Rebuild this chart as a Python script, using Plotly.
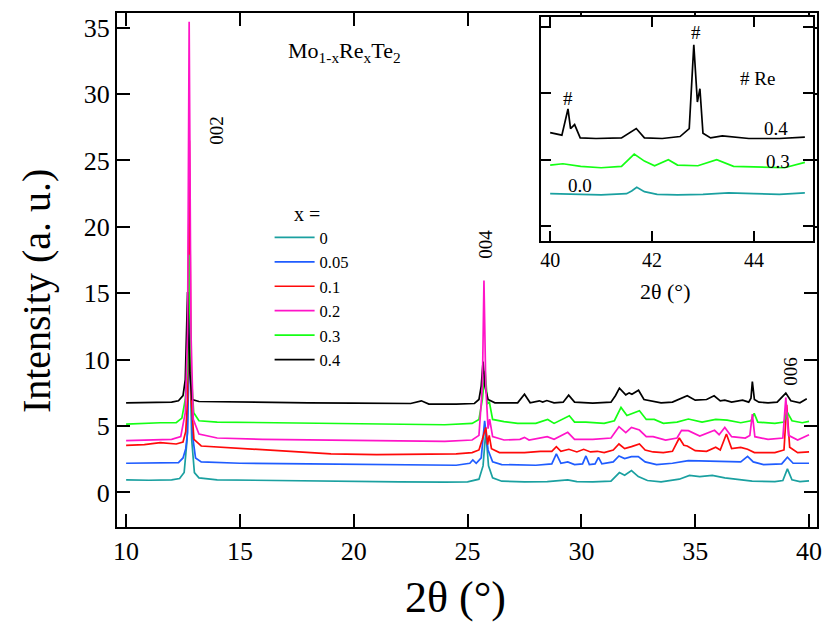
import plotly.graph_objects as go

FONT = "Liberation Serif, Times New Roman, serif"

# ---------------- data (2theta, intensity) ----------------
series_names = ["0", "0.05", "0.1", "0.2", "0.3", "0.4"]
series_colors = ["#1aa0a0", "#1f5cff", "#ff0a0a", "#ff14c8", "#14ff14", "#000000"]

s_000 = [(10.0,0.95),(11.0,0.92),(12.0,0.95),(12.35,1.05),(12.55,1.5),(12.68,4.0),(12.78,12.5),(12.88,4.0),
         (13.0,1.5),(13.2,1.1),(14.0,0.95),(16.0,0.9),(18.0,0.85),(20.0,0.82),(22.0,0.8),(24.0,0.78),(25.0,0.8),
         (25.5,1.0),(25.68,2.0),(25.8,4.6),(25.92,2.0),(26.1,1.1),(26.5,0.85),(27.5,0.8),(28.5,0.82),(29.4,0.95),
         (29.8,0.82),(30.5,0.8),(31.3,0.85),(31.67,1.5),(31.9,1.3),(32.2,1.65),(32.5,1.2),(32.9,0.9),(33.5,0.8),
         (34.3,1.0),(34.75,1.28),(35.2,1.2),(35.75,1.28),(36.3,1.1),(36.85,1.0),(37.5,0.85),(38.5,0.82),(38.85,0.9),
         (39.05,1.78),(39.25,0.95),(39.6,0.82),(40.0,0.88)]

s_005 = [(10.0,2.2),(11.5,2.2),(12.3,2.25),(12.5,2.6),(12.62,3.3),(12.7,4.5),(12.8,14.0),(12.9,4.5),(13.05,2.6),
         (13.3,2.3),(15.0,2.2),(18.0,2.15),(22.0,2.08),(24.5,2.05),(25.1,2.2),(25.23,2.45),(25.38,2.2),(25.6,2.6),
         (25.75,5.4),(25.9,3.2),(26.1,2.3),(26.5,2.1),(28.0,2.05),(28.7,2.15),(28.9,2.9),(29.1,2.2),(29.4,2.3),
         (29.7,2.1),(30.05,2.15),(30.2,2.75),(30.35,2.1),(30.6,2.15),(30.75,2.65),(30.9,2.15),(31.4,2.3),(31.65,2.75),
         (31.9,2.55),(32.2,2.7),(32.5,2.7),(32.8,2.3),(33.3,2.1),(34.0,2.2),(34.7,2.4),(35.5,2.35),(36.3,2.3),
         (37.0,2.3),(37.3,2.72),(37.55,2.3),(38.0,2.1),(38.8,2.15),(39.05,2.65),(39.3,2.2),(40.0,2.2)]

s_010 = [(10.0,3.55),(10.8,3.6),(11.5,3.75),(12.2,3.65),(12.5,3.8),(12.62,4.6),(12.7,7.0),(12.78,26.5),(12.86,7.0),
         (12.98,4.0),(13.3,3.5),(14.7,3.35),(16.5,3.15),(17.6,3.0),(19.0,2.9),(21.0,2.85),(23.0,2.85),(24.5,2.9),
         (25.2,3.0),(25.5,3.2),(25.65,4.0),(25.8,4.9),(25.88,3.6),(25.95,4.3),(26.05,3.3),(26.4,3.0),(27.5,3.0),
         (28.2,3.1),(28.7,3.1),(28.9,3.45),(29.1,3.1),(29.45,3.25),(29.8,3.05),(30.1,3.25),(30.4,3.05),(30.7,3.1),
         (31.0,3.0),(31.4,3.2),(31.65,3.65),(31.9,3.3),(32.2,3.45),(32.55,3.65),(32.8,3.2),(33.15,3.05),(33.6,3.0),
         (34.0,3.1),(34.3,4.1),(34.5,3.55),(34.65,3.5),(35.0,3.15),(35.5,3.1),(35.9,3.4),(36.1,3.2),(36.37,4.4),
         (36.6,3.3),(37.0,3.4),(37.3,3.25),(37.6,3.0),(38.5,3.0),(38.9,3.2),(39.02,6.6),(39.15,3.4),(39.5,3.0),
         (40.0,3.05)]

s_020 = [(10.0,3.9),(11.0,3.95),(12.0,4.0),(12.4,4.2),(12.6,6.0),(12.7,12.0),(12.77,35.45),(12.85,12.0),(12.95,5.5),
         (13.2,4.4),(14.0,4.1),(16.0,4.0),(18.0,3.95),(20.0,3.95),(22.0,3.9),(24.0,3.85),(25.2,3.95),(25.5,4.3),
         (25.65,8.0),(25.72,15.95),(25.8,8.0),(25.9,4.8),(25.97,5.53),(26.1,4.2),(26.6,3.95),(27.3,4.0),(27.5,4.15),
         (27.7,3.95),(28.5,4.2),(28.8,4.0),(29.4,4.53),(29.7,4.0),(30.5,4.0),(31.3,4.1),(31.65,4.95),(31.95,4.5),
         (32.2,4.9),(32.55,4.7),(32.85,4.2),(33.15,4.2),(33.7,3.95),(34.2,4.1),(34.4,4.68),(34.7,4.65),(35.2,4.25),
         (35.85,4.68),(36.05,4.35),(36.3,4.9),(36.6,4.2),(37.2,4.1),(37.4,4.3),(37.51,5.9),(37.62,4.2),(38.2,4.0),
         (38.85,4.1),(38.98,7.15),(39.1,4.3),(39.5,3.95),(40.0,4.35)]

s_030 = [(10.0,5.15),(10.5,5.2),(11.5,5.25),(12.2,5.25),(12.45,5.6),(12.6,7.0),(12.72,10.0),(12.78,17.9),(12.86,9.0),
         (12.97,6.0),(13.2,5.4),(14.0,5.3),(16.0,5.25),(18.0,5.2),(20.0,5.15),(22.0,5.15),(24.0,5.1),(25.2,5.2),
         (25.5,5.5),(25.65,7.0),(25.77,9.15),(25.88,6.7),(25.96,6.78),(26.1,5.5),(26.6,5.33),(27.2,5.2),(28.0,5.2),
         (28.52,5.5),(28.8,5.2),(29.47,5.78),(29.7,5.3),(30.2,5.3),(31.0,5.2),(31.45,5.4),(31.74,6.4),(32.0,5.8),
         (32.25,5.95),(32.55,6.15),(32.85,5.5),(33.2,5.5),(33.6,5.2),(34.2,5.3),(34.7,5.53),(35.3,5.3),(35.9,5.5),
         (36.4,5.45),(37.0,5.25),(37.45,5.4),(37.59,5.95),(37.75,5.3),(38.5,5.2),(38.9,5.3),(39.05,6.03),(39.25,5.4),
         (39.7,5.25),(40.0,5.35)]

s_040 = [(10.0,6.75),(11.0,6.78),(12.0,6.8),(12.3,6.9),(12.5,7.3),(12.6,8.5),(12.7,15.1),(12.8,9.0),(12.9,7.0),
         (13.2,6.85),(15.0,6.8),(18.0,6.75),(20.0,6.72),(22.5,6.7),(22.97,6.9),(23.3,6.65),(24.5,6.65),(25.3,6.7),
         (25.5,7.0),(25.6,8.0),(25.68,9.85),(25.76,8.0),(25.9,7.0),(26.2,6.75),(27.2,6.75),(27.5,7.4),(27.75,6.75),
         (28.15,6.9),(28.3,6.8),(28.48,6.92),(28.8,6.75),(29.2,6.8),(29.44,7.33),(29.7,6.8),(30.5,6.72),(31.3,6.8),
         (31.5,7.3),(31.67,7.85),(31.95,7.35),(32.1,7.5),(32.22,7.4),(32.51,7.7),(32.75,7.0),(33.13,6.9),(33.5,6.75),
         (34.0,6.8),(34.3,7.05),(34.65,7.28),(35.0,6.95),(35.5,7.0),(35.83,7.28),(36.1,6.9),(36.3,6.95),(36.6,6.8),
         (37.08,6.95),(37.35,6.8),(37.45,7.1),(37.51,8.35),(37.6,7.0),(37.8,6.8),(38.2,6.75),(38.6,6.8),(38.98,7.48),
         (39.2,6.9),(39.6,6.75),(39.9,7.05)]

main_series = [s_000, s_005, s_010, s_020, s_030, s_040]
draw_order = [0, 1, 2, 4, 5, 3]

# inset (40-45 deg) data
inset_names = ["0.0", "0.3", "0.4"]
inset_colors = ["#1aa0a0", "#14ff14", "#000000"]
in_000 = [(40.0,0.49),(40.5,0.48),(41.0,0.47),(41.5,0.49),(41.6,0.53),(41.7,0.585),(41.85,0.52),(42.1,0.48),
          (42.5,0.47),(43.0,0.48),(43.5,0.5),(44.0,0.49),(44.5,0.48),(45.0,0.5)]
in_030 = [(40.0,0.92),(40.25,0.94),(40.6,0.9),(41.0,0.88),(41.4,0.9),(41.65,1.085),(41.85,0.98),(42.05,0.91),
          (42.32,1.0),(42.5,0.92),(42.9,0.91),(43.27,1.0),(43.6,0.9),(44.1,0.89),(44.6,0.88),(45.0,0.96)]
in_040 = [(40.0,1.41),(40.23,1.37),(40.35,1.765),(40.4,1.47),(40.48,1.53),(40.59,1.33),(40.9,1.32),(41.4,1.33),
          (41.69,1.47),(41.85,1.33),(42.2,1.32),(42.55,1.35),(42.73,1.47),(42.82,2.73),(42.89,1.87),(42.94,2.07),
          (43.0,1.4),(43.15,1.33),(43.38,1.36),(43.56,1.35),(43.9,1.32),(44.5,1.32),(45.0,1.34)]
inset_series = [in_000, in_030, in_040]

x_ticks = [10, 15, 20, 25, 30, 35, 40]
y_ticks = [0, 5, 10, 15, 20, 25, 30, 35]
inset_x_ticks = [40, 42, 44]

# ---------------- figure ----------------
fig = go.Figure()

for i in draw_order:
    s = main_series[i]
    fig.add_trace(go.Scatter(
        x=[p[0] for p in s], y=[p[1] for p in s], mode="lines",
        name=series_names[i], legendrank=i + 1,
        line=dict(color=series_colors[i], width=1.7),
        xaxis="x", yaxis="y"))

for i, s in enumerate(inset_series):
    fig.add_trace(go.Scatter(
        x=[p[0] for p in s], y=[p[1] for p in s], mode="lines",
        showlegend=False, line=dict(color=inset_colors[i], width=1.7),
        xaxis="x2", yaxis="y2"))

axis_common = dict(showline=True, linecolor="black", linewidth=2, mirror="ticks",
                   ticks="inside", tickcolor="black", tickwidth=2, showgrid=False, zeroline=False)

# the page body adds an 8px offset, so the figure is 822x615 with margins shifted by 8px
fig.update_layout(
    width=822, height=615,
    margin=dict(l=109, r=13, t=3, b=96),
    paper_bgcolor="white", plot_bgcolor="white",
    font=dict(family=FONT, color="black"),
    xaxis=dict(range=[9.6, 40.35], tickvals=x_ticks, ticklen=13,
               tickfont=dict(size=26, family=FONT), domain=[0, 1], **axis_common),
    yaxis=dict(range=[-2.6, 36.1], tickvals=y_ticks, ticklen=13,
               tickfont=dict(size=26, family=FONT), domain=[0, 1], **axis_common),
    xaxis2=dict(range=[39.82, 45.16], tickvals=inset_x_ticks, ticklen=10, anchor="y2",
                domain=[0.6057, 0.9943], tickfont=dict(size=20, family=FONT), **axis_common),
    yaxis2=dict(range=[-0.225, 3.15], dtick=1, tick0=0, ticklen=10, anchor="x2",
                domain=[0.5562, 0.9922], showticklabels=False, **axis_common),
    legend=dict(x=0.218, y=0.597, xanchor="left", yanchor="top",
                font=dict(size=16.5, family=FONT), bgcolor="rgba(0,0,0,0)",
                tracegroupgap=0, itemwidth=40),
    showlegend=True,
)

ann = []
def A(text, x, y, xref="paper", yref="paper", size=19, angle=0):
    ann.append(dict(text=text, xref=xref, yref=yref, x=x, y=y, textangle=angle,
                    xanchor="center", yanchor="middle", showarrow=False,
                    font=dict(size=size, family=FONT)))

A("Intensity (a. u.)", -0.1157, 0.459, size=40, angle=-90)
A("2θ (°)", 0.483, -0.1376, size=44)
A("2θ (°)", 0.783, 0.459, size=22)
A("Mo<sub>1-x</sub>Re<sub>x</sub>Te<sub>2</sub>", 19.6, 33.15, "x", "y", size=22)
A("x =", (307 - 117) / 700, (527 - 213) / 516, size=20)
for txt, xx, yy in [("002", 13.99, 27.3), ("004", 25.75, 18.7), ("006", 39.2, 9.15)]:
    A(txt, xx, yy, "x", "y", size=19, angle=-90)
for txt, xx, yy in [("#", 40.35, 1.92), ("#", 42.86, 2.92), ("# Re", 44.08, 2.22),
                    ("0.4", 44.43, 1.47), ("0.3", 44.47, 0.97), ("0.0", 40.59, 0.61)]:
    A(txt, xx, yy, "x2", "y2", size=19)
fig.update_layout(annotations=ann)

fig.write_html("out.html")
